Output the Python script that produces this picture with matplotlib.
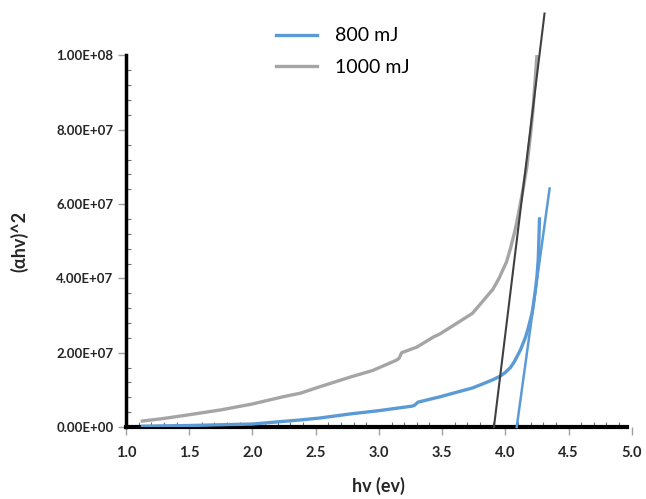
import matplotlib
matplotlib.use("Agg")
import matplotlib.pyplot as plt
from matplotlib.ticker import MultipleLocator, FormatStrFormatter, FuncFormatter

# ---- data ----
hv_800 = [1.13, 1.5, 2.0, 2.38, 2.53, 2.77, 3.0, 3.26, 3.28, 3.31, 3.48, 3.62,
          3.74, 3.85, 3.9, 3.96, 4.0, 4.04, 4.07, 4.09, 4.12, 4.14, 4.16,
          4.18, 4.195, 4.21, 4.22, 4.23, 4.24, 4.25, 4.26, 4.265, 4.27]
y_800 = [2e5, 4e5, 8e5, 1.9e6, 2.4e6, 3.5e6, 4.4e6, 5.6e6, 5.8e6, 6.7e6,
         8.1e6, 9.4e6, 1.05e7, 1.2e7, 1.27e7, 1.37e7, 1.47e7, 1.6e7, 1.75e7,
         1.88e7, 2.08e7, 2.25e7, 2.42e7, 2.65e7, 2.85e7, 3.05e7, 3.25e7,
         3.5e7, 3.75e7, 4.05e7, 4.5e7, 5.0e7, 5.6e7]

hv_1000 = [1.13, 1.3, 1.48, 1.75, 2.0, 2.25, 2.38, 2.53, 2.77, 2.95, 3.14,
           3.16, 3.18, 3.3, 3.43, 3.48, 3.62, 3.74, 3.8, 3.9, 3.95, 4.01,
           4.04, 4.07, 4.09, 4.11, 4.14, 4.17, 4.2, 4.22, 4.25]
y_1000 = [1.6e6, 2.3e6, 3.2e6, 4.6e6, 6.2e6, 8.2e6, 9.1e6, 1.08e7, 1.34e7,
          1.52e7, 1.8e7, 1.85e7, 2.0e7, 2.15e7, 2.42e7, 2.5e7, 2.8e7, 3.06e7,
          3.3e7, 3.7e7, 4.0e7, 4.45e7, 4.8e7, 5.2e7, 5.5e7, 5.85e7, 6.4e7,
          7.0e7, 7.9e7, 8.6e7, 1.0e8]

# linear fits (Tauc tangents)
fit_800_x = [4.09, 4.35]
fit_800_y = [0, 6.42e7]
fit_1000_x = [3.91, 4.31]
fit_1000_y = [0, 1.113e8]
base_x = [1.13, 4.35]
base_y = [0, 0]

BLUE = "#5B9BD5"
GRAY = "#A5A5A5"
DARK = "#404040"
ORANGE = "#ED7D31"

plt.rcParams["font.family"] = ["Lato", "DejaVu Sans"]

fig = plt.figure(figsize=(6.46, 4.99), dpi=100)
ax = fig.add_axes([0.195, 0.1443, 0.783, 0.7445])

ax.plot(base_x, base_y, color=ORANGE, lw=1.2, zorder=1)
l1, = ax.plot(hv_800, y_800, color=BLUE, lw=2.4, label="800 mJ", zorder=3)
l2, = ax.plot(hv_1000, y_1000, color=GRAY, lw=2.4, label="1000 mJ", zorder=3)
ax.plot(fit_800_x, fit_800_y, color=BLUE, lw=1.8, zorder=4, clip_on=False)
ax.plot(fit_1000_x, fit_1000_y, color=DARK, lw=1.5, zorder=4, clip_on=False)

ax.set_xlim(1.0, 5.0)
ax.set_ylim(0, 1.0e8)

for s in ["top", "right"]:
    ax.spines[s].set_visible(False)
ax.spines["left"].set_linewidth(2.5)
ax.spines["bottom"].set_linewidth(3)
ax.spines["bottom"].set_bounds(1.0, 4.96)
ax.spines["bottom"].set_zorder(2)

ax.xaxis.set_major_locator(MultipleLocator(0.5))
ax.xaxis.set_minor_locator(MultipleLocator(0.1))
ax.yaxis.set_major_locator(MultipleLocator(2e7))
ax.yaxis.set_minor_locator(MultipleLocator(4e6))
ax.xaxis.set_major_formatter(FormatStrFormatter("%.1f"))
ax.yaxis.set_major_formatter(FuncFormatter(lambda v, p: f"{v:.2E}"))

ax.tick_params(which="major", direction="out", length=6, width=1, color="#A0A0A0")
ax.tick_params(which="minor", direction="in", length=3.5, width=0.8, color="#707070")
ax.tick_params(axis="x", which="major", labelsize=10.5, pad=8)
ax.tick_params(axis="y", which="major", labelsize=9.5, pad=3)
for lab in ax.get_xticklabels() + ax.get_yticklabels():
    lab.set_fontweight("bold")
    lab.set_color("#262626")

ax.set_xlabel("hv (ev)", fontsize=13, fontweight="bold", labelpad=12, color="#262626")
ax.set_ylabel("(αhv)^2", fontsize=13, fontweight="bold", labelpad=20, color="#262626")

fig.legend(handles=[l1, l2], loc="upper left", bbox_to_anchor=(0.428, 0.945),
           frameon=False, fontsize=14, handlelength=2.1, handletextpad=0.9,
           labelspacing=0.75, borderpad=0, borderaxespad=0)

fig.savefig("out.png", dpi=100)
